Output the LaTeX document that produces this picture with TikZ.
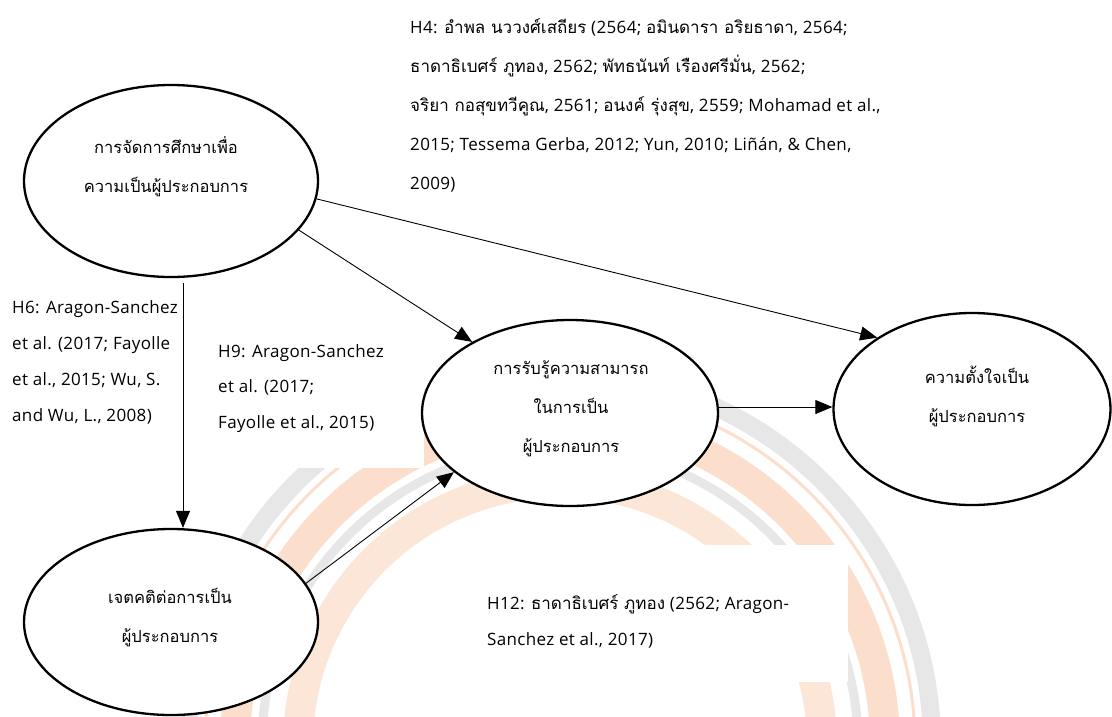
\documentclass[tikz,border=0pt]{standalone}
\usepackage{fontspec}
\setmainfont{Open Sans}[LetterSpace=2]
\newfontfamily\thf[Script=Thai]{Loma}
\usetikzlibrary{arrows.meta,shapes.geometric}
\definecolor{wmgrey}{RGB}{231,231,231}
\definecolor{wmpeach}{RGB}{251,222,203}
\begin{document}
\begin{tikzpicture}[x=1pt,y=-1pt,
  ell/.style={draw,line width=2.3pt,ellipse,fill=white,inner sep=0pt},
  arr/.style={line width=0.9pt,-{Triangle[length=17pt,width=14pt]}},
  lab/.style={anchor=base west,inner sep=0pt,align=left,font=\fontsize{17}{36}\selectfont},
  etxt/.style={inner sep=0pt,align=center,font=\thf\fontsize{16.5}{39}\selectfont}]
\useasboundingbox (0,0) rectangle (1112,716);
\fill[white] (0,0) rectangle (1112,716);
% watermark (faint seal)
\begin{scope}
\clip (0,0) rectangle (1112,716);
\draw[wmgrey,line width=18pt] (560,745) circle[radius=372];
\draw[wmpeach,line width=3pt] (560,745) circle[radius=355];
\draw[wmpeach,line width=30pt] (560,745) circle[radius=325];
\draw[wmgrey,line width=9pt] (560,745) circle[radius=298];
\draw[wmpeach!75,line width=30pt] (560,745) circle[radius=262];
\end{scope}
% white text boxes
\fill[white] (0,0) rectangle (424,468);
\fill[white] (465,545) rectangle (848,682);
% ellipses
\node[ell,minimum width=294pt,minimum height=192pt] (e1) at (171,181) {};
\node[ell,minimum width=296pt,minimum height=186pt] (e2) at (570,413) {};
\node[ell,minimum width=277pt,minimum height=192pt] (e3) at (972,409) {};
\node[ell,minimum width=294pt,minimum height=186pt] (e4) at (171,622) {};
% ellipse texts
\node[etxt] (t1) at (166,167) {การจัดการศึกษาเพื่อ\\ความเป็นผู้ประกอบการ};
\node[etxt] (t2) at (571,409) {การรับรู้ความสามารถ\\ในการเป็น\\ผู้ประกอบการ};
\node[etxt] (t3) at (977,396) {ความตั้งใจเป็น\\ผู้ประกอบการ};
\node[etxt] (t4) at (170,618) {เจตคติต่อการเป็น\\ผู้ประกอบการ};
% connectors
\draw[arr] (e1.-7.4) -- (e3.143.5);
\draw[arr] (e1.-21.3) -- (e2.144.4);
\draw[arr] ([xshift=12pt,yshift=-5pt]e1.south) -- ([xshift=12pt]e4.north);
\draw[arr] (e4.16.9) -- (e2.-153.4);
\draw[arr] ([yshift=6pt]e2.east) -- ([yshift=6pt]e2.east -| e3.west);
% labels
\node[lab,font=\fontsize{17}{39}\selectfont] (h4) at (410,189) {H4: {\thf อำพล นววงศ์เสถียร} (2564; {\thf อมินดารา อริยธาดา}, 2564;\\
{\thf ธาดาธิเบศร์ ภูทอง}, 2562; {\thf พัทธนันท์ เรืองศรีมั่น}, 2562;\\
{\thf จริยา กอสุขทวีคูณ}, 2561; {\thf อนงค์ รุ่งสุข}, 2559; Mohamad et al.,\\
2015; Tessema Gerba, 2012; Yun, 2010; Liñán, \& Chen,\\
2009)};
\node[lab] (h6) at (12,421) {H6: Aragon-Sanchez\\et al. (2017; Fayolle\\et al., 2015; Wu, S.\\and Wu, L., 2008)};
\node[lab,font=\fontsize{17}{35.5}\selectfont] (h9) at (218,428) {H9: Aragon-Sanchez\\et al. (2017;\\Fayolle et al., 2015)};
\node[lab] (h12) at (487,645) {H12: {\thf ธาดาธิเบศร์ ภูทอง} (2562; Aragon-\\Sanchez et al., 2017)};
\end{tikzpicture}
\end{document}
